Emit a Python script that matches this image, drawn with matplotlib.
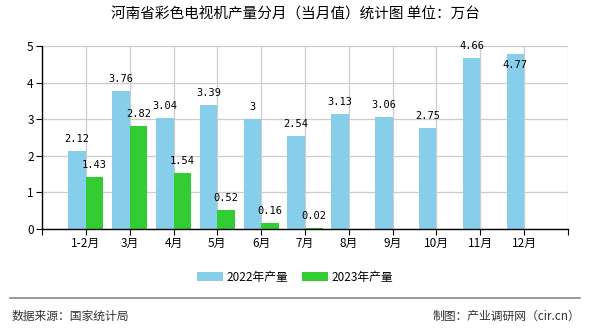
import matplotlib

matplotlib.use("Agg")
import matplotlib.pyplot as plt
import numpy as np

plt.rcParams["font.family"] = ["Noto Sans CJK SC", "DejaVu Sans"]

MONTHS = ["1-2月", "3月", "4月", "5月", "6月", "7月", "8月", "9月", "10月", "11月", "12月"]
OUT_2022 = [2.12, 3.76, 3.04, 3.39, 3.0, 2.54, 3.13, 3.06, 2.75, 4.66, 4.77]
OUT_2023 = [1.43, 2.82, 1.54, 0.52, 0.16, 0.02]
LABELS_2022 = ["2.12", "3.76", "3.04", "3.39", "3", "2.54", "3.13", "3.06", "2.75", "4.66", "4.77"]
LABELS_2023 = ["1.43", "2.82", "1.54", "0.52", "0.16", "0.02"]

BLUE = "#87ceeb"
GREEN = "#32cd32"
YMAX = 5


def put_label(ax, x, v, s):
    # labels that would run past the top of the plot go inside the bar
    if v > YMAX - 0.25:
        off, va = (0, -4), "top"
    else:
        off, va = (0, 5), "bottom"
    ax.annotate(s, (x, v), xytext=off, textcoords="offset points",
                ha="center", va=va, fontsize=7.5, family="DejaVu Sans Mono", zorder=3)


def main() -> None:
    fig = plt.figure(figsize=(5.9, 3.3), dpi=100)
    ax = fig.add_axes([0.0712, 0.306, 0.8915, 0.555])

    w = 0.40
    x22 = np.arange(len(OUT_2022))
    x23 = np.arange(len(OUT_2023))
    ax.bar(x22 - w / 2, OUT_2022, w, color=BLUE, label="2022年产量", zorder=2)
    ax.bar(x23 + w / 2, OUT_2023, w, color=GREEN, label="2023年产量", zorder=2)

    for x, v, s in zip(x22, OUT_2022, LABELS_2022):
        put_label(ax, x - w / 2, v, s)
    for x, v, s in zip(x23, OUT_2023, LABELS_2023):
        put_label(ax, x + w / 2, v, s)

    ax.set_xlim(-1, len(MONTHS))
    ax.set_ylim(0, YMAX)
    ax.set_xticks(np.arange(-1, len(MONTHS) + 1))
    ax.set_xticklabels([""] + MONTHS + [""], fontsize=8.5)
    ax.set_yticks(range(YMAX + 1))
    ax.tick_params(axis="y", labelsize=8.5, length=4, pad=2)
    ax.tick_params(axis="x", length=4, pad=2)
    ax.grid(color="#cccccc", linewidth=0.9, zorder=0)
    ax.set_axisbelow(True)
    ax.spines["top"].set_visible(False)
    ax.spines["right"].set_visible(False)
    for side in ("left", "bottom"):
        ax.spines[side].set_linewidth(1.0)
        ax.spines[side].set_color("black")

    fig.text(0.5, 0.955, "河南省彩色电视机产量分月（当月值）统计图 单位：万台",
             ha="center", va="center", fontsize=10.5)

    fig.legend(loc="center", bbox_to_anchor=(0.5, 0.16), ncol=2, frameon=False,
               fontsize=8.5, handlelength=2.2, handleheight=0.8, columnspacing=1.2,
               handletextpad=0.3)

    fig.add_artist(plt.Line2D([0.017, 0.983], [0.097, 0.097], color="#888888", linewidth=1.2))
    fig.text(0.02, 0.042, "数据来源：国家统计局", ha="left", va="center", fontsize=8.5, color="#333333")
    fig.text(0.983, 0.042, "制图：产业调研网（cir.cn）", ha="right", va="center", fontsize=8.5, color="#333333")

    fig.savefig("out.png", dpi=100)


if __name__ == "__main__":
    main()
